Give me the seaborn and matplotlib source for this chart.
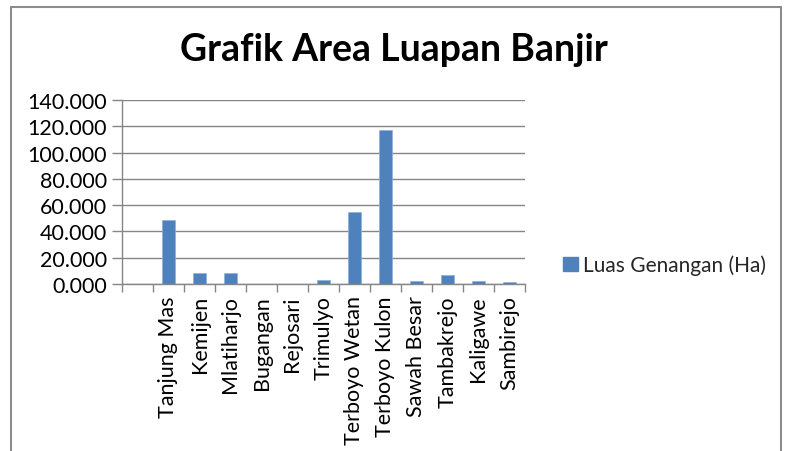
import matplotlib
matplotlib.use("Agg")
import matplotlib.pyplot as plt
import seaborn as sns
import pandas as pd
from matplotlib.ticker import FuncFormatter, FixedLocator
from matplotlib.lines import Line2D
from matplotlib.patches import Patch

categories = ["", "Tanjung Mas", "Kemijen", "Mlatiharjo", "Bugangan", "Rejosari",
              "Trimulyo", "Terboyo Wetan", "Terboyo Kulon", "Sawah Besar",
              "Tambakrejo", "Kaligawe", "Sambirejo"]
values = [0, 48.7, 8.4, 8.4, 0, 0, 2.8, 54.5, 117.4, 2.0, 6.8, 2.0, 1.3]
series_name = "Luas Genangan (Ha)"
title = "Grafik Area Luapan Banjir"

sns.set_style("white")
plt.rcParams["font.family"] = ["Lato", "DejaVu Sans"]

df = pd.DataFrame({"cat": categories, "val": values})

fig = plt.figure(figsize=(7.88, 4.52), dpi=100)
ax = fig.add_axes([122/788, 1-285/452, (525-122)/788, (285-101)/452])

bar_color = "#4F81BD"
sns.barplot(data=df, x="cat", y="val", order=categories, color=bar_color,
            width=0.4, ax=ax, saturation=1, edgecolor="#8DB0DA", linewidth=0.5)

ax.set_ylim(0, 140)
ax.set_xlim(-0.5, len(categories) - 0.5)
ax.set_yticks(range(0, 141, 20))
ax.yaxis.set_major_formatter(FuncFormatter(lambda v, p: f"{v:.3f}"))
ax.grid(axis="y", color="#868686", linewidth=1)
ax.set_axisbelow(True)
ax.set_xlabel("")
ax.set_ylabel("")

for s in ["top", "right"]:
    ax.spines[s].set_visible(False)
for s in ["left", "bottom"]:
    ax.spines[s].set_visible(True)
    ax.spines[s].set_color("#868686")
    ax.spines[s].set_linewidth(1)

fs = 15.5
ax.tick_params(axis="y", which="major", length=7, width=1, color="#868686",
               labelsize=fs, pad=4, labelcolor="black", left=True)
ax.set_xticks(range(len(categories)))
ax.set_xticklabels(categories, rotation=90, fontsize=fs, va="top", ha="center")
ax.tick_params(axis="x", which="major", length=0, pad=8, labelcolor="black")
ax.xaxis.set_minor_locator(FixedLocator([i - 0.5 for i in range(len(categories) + 1)]))
ax.tick_params(axis="x", which="minor", length=6, width=1, color="#868686", bottom=True)

fig.text(0.5, 1 - 50/452, title, ha="center", va="center", fontsize=27,
         fontweight="bold", color="black")

handle = Patch(facecolor=bar_color, edgecolor=bar_color)
fig.legend([handle], [series_name], loc="center left",
           bbox_to_anchor=(555/788, 1 - 266/452), frameon=False, fontsize=15,
           handlelength=0.7, handleheight=0.7, handletextpad=0.25, borderaxespad=0)

frame_color = "#8C8C8C"
fig.add_artist(Line2D([11/788, 11/788], [0, 1 - 8/452], transform=fig.transFigure,
                      color=frame_color, linewidth=1.5))
fig.add_artist(Line2D([11/788, 781/788], [1 - 8/452, 1 - 8/452], transform=fig.transFigure,
                      color=frame_color, linewidth=1.5))
fig.add_artist(Line2D([781/788, 781/788], [0, 1 - 8/452], transform=fig.transFigure,
                      color=frame_color, linewidth=1.5))

fig.savefig("out.png", dpi=100)
